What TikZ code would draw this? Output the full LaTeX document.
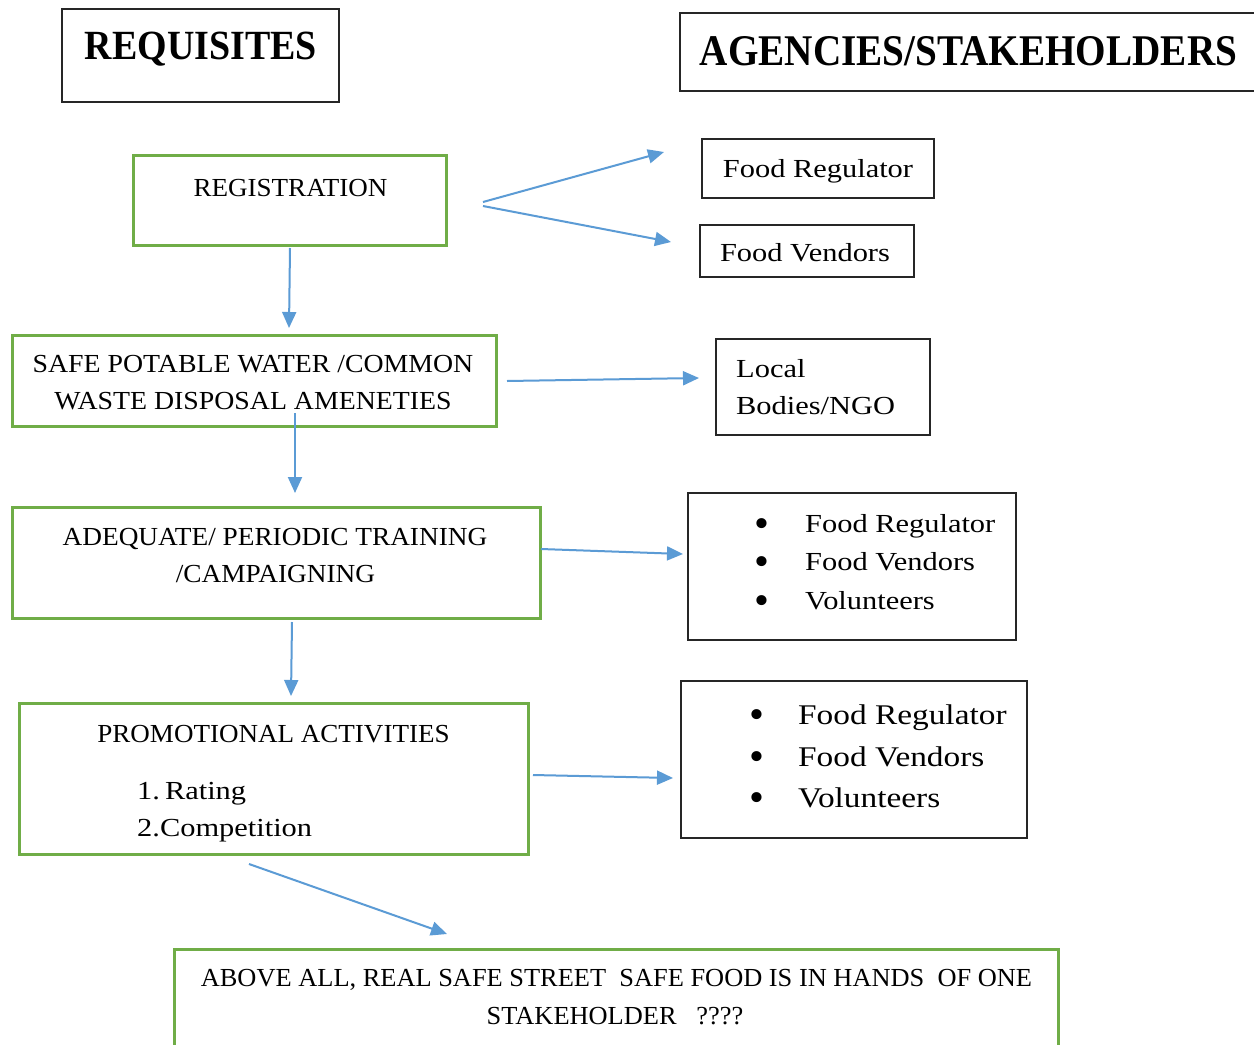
\documentclass[tikz,border=0pt]{standalone}
\usepackage{fontspec}
\setmainfont{Liberation Serif}[FakeStretch=1.04]
\newfontfamily\widefont{Liberation Serif}[FakeStretch=1.17]
\newfontfamily\plainfont{Liberation Serif}[FakeStretch=1.015]
\usetikzlibrary{arrows.meta}
\definecolor{boxgreen}{HTML}{70AD47}
\definecolor{arrblue}{HTML}{5B9BD5}
\definecolor{boxblack}{HTML}{262626}
\tikzset{
  greenbox/.style={draw=boxgreen, line width=2.5pt, inner sep=0pt, anchor=north west},
  blackbox/.style={draw=boxblack, line width=1.5pt, inner sep=0pt, anchor=north west},
  arr/.style={draw=arrblue, line width=2pt, -{Triangle[length=16pt,width=14pt]}},
  txt/.style={inner sep=0pt, anchor=base, font=\fontsize{26}{31}\selectfont},
  wtxt/.style={txt, font=\fontsize{26}{31}\selectfont\widefont},
  wtxtl/.style={wtxt, anchor=base west},
  ptxt/.style={txt, font=\fontsize{26}{31}\selectfont\plainfont},
  bigl/.style={inner sep=0pt, anchor=base west, font=\fontsize{28.5}{34}\selectfont\widefont},
  bul/.style={inner sep=0pt, anchor=base, font=\fontsize{42}{42}\selectfont\plainfont},
  ttl/.style={inner sep=0pt, anchor=base, font=\bfseries},
}
\begin{document}
\begin{tikzpicture}[x=1pt,y=-1pt]
\useasboundingbox (0,0) rectangle (1254,1045);
\fill[white] (0,0) rectangle (1254,1045);

% titles
\node[blackbox, minimum width=277pt, minimum height=93pt] (reqbox) at (61,8) {};
\node[ttl] (reqtxt) at (201,59) {\resizebox{232pt}{27.5pt}{REQUISITES}};
\node[blackbox, minimum width=600pt, minimum height=78pt] (agbox) at (679,12) {};
\node[ttl] (agtxt) at (968.5,65) {\resizebox{537pt}{29pt}{AGENCIES/STAKEHOLDERS}};

% left column boxes
\node[greenbox, minimum width=313pt, minimum height=90pt] (reg) at (132,154) {};
\node[txt] (regtxt) at (290.5,196) {REGISTRATION};

\node[greenbox, minimum width=484pt, minimum height=91pt] (water) at (11,334) {};
\node[txt] (watert1) at (253,372) {\addfontfeature{FakeStretch=1.07}SAFE POTABLE WATER /COMMON};
\node[txt] (watert2) at (253,409) {\addfontfeature{FakeStretch=1.07}WASTE DISPOSAL AMENETIES};

\node[greenbox, minimum width=528pt, minimum height=111pt] (train) at (11,506) {};
\node[txt] (traint1) at (275,545) {\addfontfeature{FakeStretch=1.05}ADEQUATE/ PERIODIC TRAINING};
\node[txt] (traint2) at (275.5,582) {\addfontfeature{FakeStretch=1.05}/CAMPAIGNING};

\node[greenbox, minimum width=509pt, minimum height=151pt] (promo) at (18,702) {};
\node[txt] (promot1) at (273.5,742) {PROMOTIONAL ACTIVITIES};
\node[wtxtl] (promot2) at (137,799) {1.\hspace{5pt}Rating};
\node[wtxtl] (promot3) at (137,836) {2.Competition};

\node[greenbox, minimum width=884pt, minimum height=110pt] (final) at (173,948) {};
\node[ptxt] (finalt1) at (616.5,986) {ABOVE ALL, REAL SAFE STREET\ \ SAFE FOOD IS IN HANDS\ \ OF ONE};
\node[ptxt] (finalt2) at (615,1024) {STAKEHOLDER\ \ \ ????};

% right column boxes
\node[blackbox, minimum width=232pt, minimum height=59pt] (fr) at (701,138) {};
\node[wtxt] (frtxt) at (818,177) {Food Regulator};
\node[blackbox, minimum width=214pt, minimum height=52pt] (fv) at (699,224) {};
\node[wtxt] (fvtxt) at (805,261) {Food Vendors};

\node[blackbox, minimum width=214pt, minimum height=96pt] (local) at (715,338) {};
\node[wtxtl] (localt1) at (736,377) {Local};
\node[wtxtl] (localt2) at (736,414) {Bodies/NGO};

\node[blackbox, minimum width=328pt, minimum height=147pt] (list1) at (687,492) {};
\node[bul] (b11) at (762,537) {•};
\node[bul] (b12) at (762,575) {•};
\node[bul] (b13) at (762,614) {•};
\node[wtxtl] (l11) at (805,532) {Food Regulator};
\node[wtxtl] (l12) at (805,570) {Food Vendors};
\node[wtxtl] (l13) at (805,609) {Volunteers};

\node[blackbox, minimum width=346pt, minimum height=157pt] (list2) at (680,680) {};
\node[bul] (b21) at (757,728) {•};
\node[bul] (b22) at (757,770) {•};
\node[bul] (b23) at (757,811) {•};
\node[bigl] (l21) at (798,724) {Food Regulator};
\node[bigl] (l22) at (798,766) {Food Vendors};
\node[bigl] (l23) at (798,807) {Volunteers};

% connector ends
\coordinate (a1s) at (483,202);
\coordinate (a1e) at (664,152);
\coordinate (a2s) at (483,206);
\coordinate (a2e) at (671,242);
\coordinate (a3s) at (290,248);
\coordinate (a3e) at (289,328);
\coordinate (a4s) at (507,381);
\coordinate (a4e) at (699,378);
\coordinate (a5s) at (295,413);
\coordinate (a5e) at (295,493);
\coordinate (a6s) at (541,549);
\coordinate (a6e) at (683,554);
\coordinate (a7s) at (292,622);
\coordinate (a7e) at (291,696);
\coordinate (a8s) at (533,775);
\coordinate (a8e) at (673,778);
\coordinate (a9s) at (249,864);
\coordinate (a9e) at (447,934);

\draw[arr] (a1s) -- (a1e);
\draw[arr] (a2s) -- (a2e);
\draw[arr] (a3s) -- (a3e);
\draw[arr] (a4s) -- (a4e);
\draw[arr] (a5s) -- (a5e);
\draw[arr] (a6s) -- (a6e);
\draw[arr] (a7s) -- (a7e);
\draw[arr] (a8s) -- (a8e);
\draw[arr] (a9s) -- (a9e);
\end{tikzpicture}
\end{document}
